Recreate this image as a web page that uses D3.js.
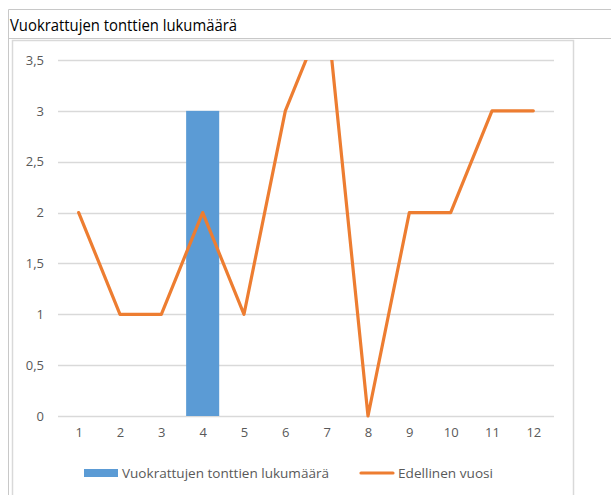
<!DOCTYPE html>
<html>
<head>
<meta charset="utf-8">
<script src="https://cdn.jsdelivr.net/npm/d3@7"></script>
<style>
  body { margin: 0; background: #fff; }
  text { font-family: "Open Sans", "Noto Sans", sans-serif; }
</style>
</head>
<body>
<div id="chart"></div>
<script>
var months = ["1","2","3","4","5","6","7","8","9","10","11","12"];
var rented = [0,0,0,3,0,0,0,0,0,0,0,0];
var prevYear = [2,1,1,2,1,3,4,0,2,2,3,3];
var yTicks = [0,0.5,1,1.5,2,2.5,3,3.5];
var seriesNames = ["Vuokrattujen tonttien lukumäärä", "Edellinen vuosi"];
var title = "Vuokrattujen tonttien lukumäärä";

var width = 611, height = 495;
var svg = d3.select("#chart").append("svg")
  .attr("width", width).attr("height", height);

// outer frame + title bar
svg.append("path")
  .attr("d", "M8.5,495V9.5H611")
  .attr("fill", "none").attr("stroke", "#c8c8c8");
svg.append("line")
  .attr("x1", 8.5).attr("x2", 611).attr("y1", 38.5).attr("y2", 38.5)
  .attr("stroke", "#c8c8c8");
svg.append("text")
  .attr("x", 10).attr("y", 31)
  .attr("font-size", 17).attr("fill", "#000")
  .attr("textLength", 227).attr("lengthAdjust", "spacingAndGlyphs")
  .text(title);

// inner chart box
svg.append("path")
  .attr("d", "M12.5,495V40.5H573.5V495")
  .attr("fill", "none").attr("stroke", "#d9d9d9").attr("stroke-width", 1.5);

var x = d3.scaleBand().domain(months).range([58, 554]).paddingInner(0.2).paddingOuter(0.1);
var xc = d3.scalePoint().domain(months).range([58, 554]).padding(0.5);
var y = d3.scaleLinear().domain([0, 3.5]).range([416, 60]);

// gridlines
svg.append("g").selectAll("line").data(yTicks).enter().append("line")
  .attr("x1", 58).attr("x2", 554)
  .attr("y1", d => Math.round(y(d)) + 0.5).attr("y2", d => Math.round(y(d)) + 0.5)
  .attr("stroke", "#d9d9d9").attr("stroke-width", 1.3);

var fmt = d => String(d).replace(".", ",");
var yAxis = svg.append("g").attr("transform", "translate(58,0)")
  .call(d3.axisLeft(y).tickValues(yTicks).tickSize(0).tickPadding(14).tickFormat(fmt));
yAxis.select(".domain").remove();
yAxis.selectAll("text").attr("font-size", 13).attr("fill", "#595959");

var xAxis = svg.append("g").attr("transform", "translate(0,416)")
  .call(d3.axisBottom(xc).tickSize(0).tickPadding(12));
xAxis.select(".domain").remove();
xAxis.selectAll("text").attr("font-size", 13).attr("fill", "#595959");

svg.append("defs").append("clipPath").attr("id", "plot")
  .append("rect").attr("x", 40).attr("y", 60).attr("width", 530).attr("height", 380);

// bars
svg.append("g").selectAll("rect").data(rented).enter().append("rect")
  .attr("x", (d, i) => x(months[i]))
  .attr("width", x.bandwidth())
  .attr("y", d => y(d))
  .attr("height", d => y(0) - y(d))
  .attr("fill", "#5b9bd5");

// line
var line = d3.line().x((d, i) => xc(months[i])).y(d => y(d));
svg.append("path").datum(prevYear)
  .attr("clip-path", "url(#plot)")
  .attr("d", line)
  .attr("fill", "none").attr("stroke", "#ed7d31")
  .attr("stroke-width", 3.2).attr("stroke-linejoin", "round").attr("stroke-linecap", "round");

// legend
var lg = svg.append("g");
lg.append("rect").attr("x", 84).attr("y", 469).attr("width", 34).attr("height", 8).attr("fill", "#5b9bd5");
lg.append("text").attr("x", 122).attr("y", 478).attr("font-size", 13).attr("fill", "#595959")
  .attr("textLength", 207).attr("lengthAdjust", "spacingAndGlyphs").text(seriesNames[0]);
lg.append("line").attr("x1", 361).attr("x2", 393).attr("y1", 473).attr("y2", 473)
  .attr("stroke", "#ed7d31").attr("stroke-width", 3.2).attr("stroke-linecap", "round");
lg.append("text").attr("x", 398).attr("y", 478).attr("font-size", 13).attr("fill", "#595959")
  .attr("textLength", 95).attr("lengthAdjust", "spacingAndGlyphs").text(seriesNames[1]);
</script>
</body>
</html>
